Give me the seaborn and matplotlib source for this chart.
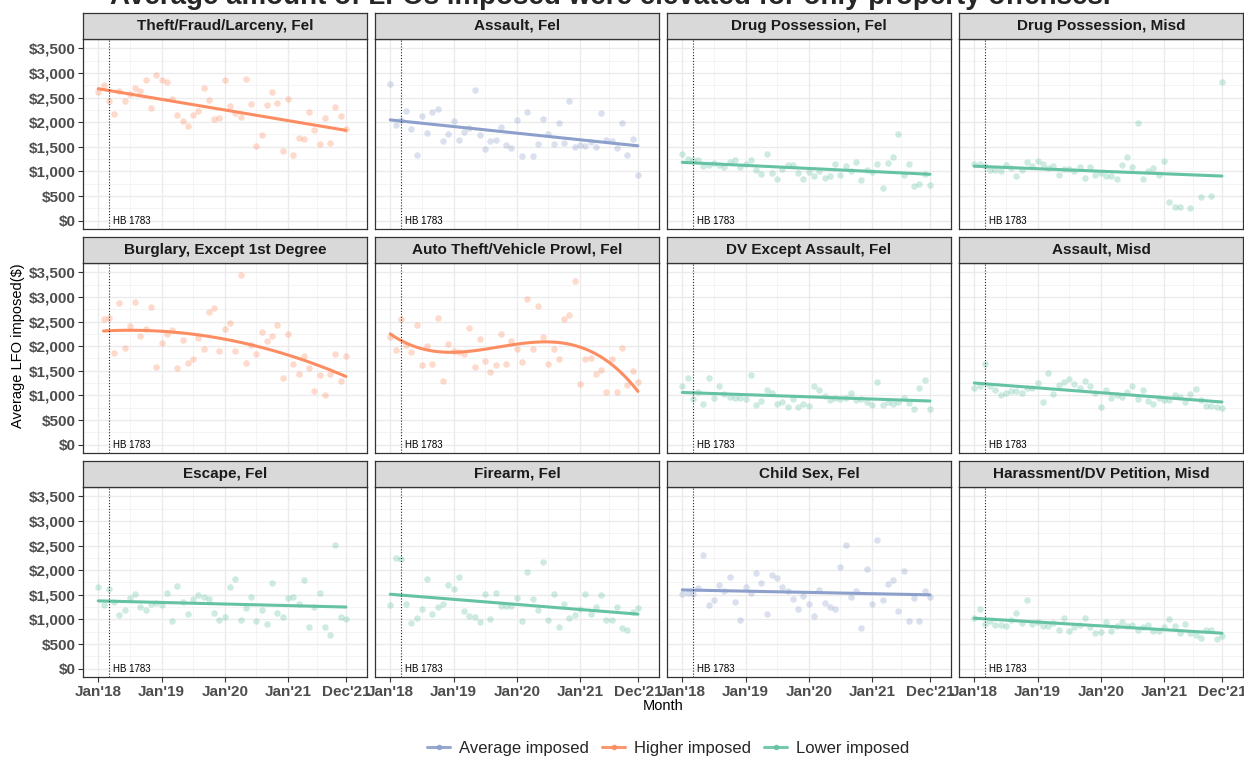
import numpy as np
import pandas as pd
import matplotlib
matplotlib.use("Agg")
import matplotlib.pyplot as plt
from matplotlib.lines import Line2D
import seaborn as sns

# ---------------- data ----------------
TITLE = "Average amount of LFOs imposed were elevated for only property offenses."
panel_titles = [
    "Theft/Fraud/Larceny, Fel", "Assault, Fel", "Drug Possession, Fel", "Drug Possession, Misd",
    "Burglary, Except 1st Degree", "Auto Theft/Vehicle Prowl, Fel", "DV Except Assault, Fel", "Assault, Misd",
    "Escape, Fel", "Firearm, Fel", "Child Sex, Fel", "Harassment/DV Petition, Misd",
]
panel_groups = [
    "Higher imposed", "Average imposed", "Lower imposed", "Lower imposed",
    "Higher imposed", "Higher imposed", "Lower imposed", "Lower imposed",
    "Lower imposed", "Lower imposed", "Average imposed", "Lower imposed",
]
# polynomial order of each panel's smooth trend line
panel_smooth_order = [1, 1, 1, 1, 2, 3, 1, 1, 1, 1, 1, 1]

month_tick_labels = ["Jan'18", "Jan'19", "Jan'20", "Jan'21", "Dec'21"]
month_tick_pos = [0, 12, 24, 36, 47]
law_month = 2.1
law_label = "HB 1783"

theft_fel = [2606, 2762, 2430, 2166, 2633, 2430, 2572, 2688, 2640, 2850, 2281, 2952,
             2857, 2809, 2478, 2146, 2017, 1923, 2146, 2234, 2688, 2457, 2072, 2078,
             2857, 2329, 2187, 2099, 2877, 2363, 1510, 1747, 2349, 2606, 2390, 1408,
             2478, 1334, 1672, 1659, 2214, 1835, 1557, 2085, 1577, 2309, 2133, 1855]
assault_fel = [2776, 1936, 2045, 2234, 1855, 1327, 2133, 1781, 2214, 2268, 1611, 1753,
               2017, 1645, 1794, 1889, 2654, 1740, 1462, 1618, 1645, 1909, 1537, 1483,
               2045, 1307, 2214, 1307, 1550, 2058, 1753, 1550, 1984, 1577, 2430, 1496,
               1537, 1510, 1604, 1496, 2187, 1638, 1618, 1483, 1990, 1340, 1659, 927]
drug_fel = [1347, 1246, 1232, 1232, 1110, 1137, 1171, 1137, 1090, 1198, 1232, 1097,
            1151, 1232, 1022, 941, 1354, 975, 853, 1043, 1124, 1124, 961, 853,
            995, 907, 1009, 873, 914, 1144, 921, 1117, 1009, 1198, 819, 1036,
            982, 1158, 657, 1164, 1293, 1753, 927, 1158, 711, 745, 948, 724]
drug_misd = [1144, 1144, 1110, 1022, 1022, 1002, 1131, 1070, 900, 1022, 1198, 1110,
             1212, 1158, 1076, 1110, 934, 1049, 1049, 1016, 1083, 873, 1083, 921,
             975, 914, 914, 839, 1124, 1286, 1083, 1990, 846, 1002, 1063, 934,
             1219, 372, 271, 271, None, 250, None, 474, None, 508, None, 2816]
burglary_fel = [None, 2544, 2564, 1852, 2876, 1967, 2415, 2890, 2198, 2354, 2788, 1574,
                2062, 2252, 2327, 1560, 2123, 1655, 1743, 2171, 1933, 2700, 2767, 1899,
                2347, 2476, 1899, 3453, 1655, 2030, 1838, 2279, 2103, 2198, 2435, 1363,
                2238, 1628, 1445, 1804, 1547, 1099, 1424, 1017, 1445, 1838, 1302, 1791]
auto_theft_fel = [2177, 1920, 2544, 2021, 1879, 2435, 1608, 1994, 1648, 2571, 1289, 2042,
                  1906, 1872, 1838, 2360, 1587, 2137, 1703, 1485, 1614, 2238, 1635, 2103,
                  1933, 1675, 2964, 1933, 2815, 2191, 1648, 1947, 1743, 2550, 2632, 3324,
                  1234, 1736, 1770, 1438, 1513, 1072, 1730, 1065, 1954, 1207, 1499, 1282]
dv_fel = [1187, 1363, 929, 1072, 834, 1350, 943, 1187, 1024, 970, 956, 943,
          929, 1424, 814, 882, 1119, 1045, 834, 861, 766, 929, 766, 834,
          787, 1201, 1106, 997, 916, 956, 929, 943, 1058, 916, 929, 875,
          800, 1268, 814, 861, 821, 875, 943, 841, 719, 1146, 1323, 719]
assault_misd = [1153, 1187, 1628, 1187, 1106, 1004, 1058, 1085, 1085, 1058, 1153, 1153,
                1262, 875, 1458, 1031, 1221, 1268, 1329, 1241, 1153, 1296, 1187, 1051,
                773, 1119, 943, 1004, 970, 1072, 1187, 936, 1119, 889, 821, 956,
                902, 902, 1004, 970, 875, 1031, 1126, 909, 794, 794, 760, 739]
escape_fel = [1659, 1295, 1619, 1349, 1093, 1194, 1443, 1511, 1261, 1194, 1315, 1335,
              1288, 1538, 971, 1686, 1362, 1113, 1409, 1490, 1463, 1423, 1133, 985,
              1059, 1666, 1821, 985, 1234, 1463, 971, 1200, 910, 1733, 1133, 1059,
              1436, 1457, 1308, 1801, 836, 1254, 1538, 836, 688, 2502, 1045, 1005]
firearm_fel = [1288, 2239, 2219, 1308, 937, 1025, 1207, 1828, 1120, 1248, 1315, 1693,
               1612, 1861, 1180, 1066, 1059, 951, 1524, 1018, 1531, 1281, 1281, 1281,
               1443, 958, 1969, 1409, 1200, 2165, 985, 1511, 836, 1308, 1032, 1093,
               1207, 1524, 1120, 1248, 1504, 998, 998, 1261, 823, 782, 1160, 1234]
child_sex_fel = [1515, 1535, 1515, 1631, 2299, 1290, 1399, 1699, 1583, 1863, 1358, 996,
                 1665, 1535, 1945, 1733, 1105, 1910, 1842, 1658, 1583, 1412, 1221, 1467,
                 1317, 1064, 1603, 1330, 1249, 1214, 2067, 2518, 1460, 1569, 832, 2026,
                 1310, 2620, 1385, 1726, 1794, 1180, 1979, 962, 1433, 962, 1569, 1446]
harassment_misd = [1037, 1208, 907, 976, 880, 894, 860, 996, 1126, 928, 1399, 907,
                   942, 873, 860, 921, 778, 1023, 764, 846, 880, 1023, 846, 723,
                   744, 955, 771, 873, 942, 873, 880, 778, 846, 880, 771, 771,
                   846, 1010, 860, 723, 901, 723, 675, 621, 778, 785, 594, 662]

panel_values = [theft_fel, assault_fel, drug_fel, drug_misd,
                burglary_fel, auto_theft_fel, dv_fel, assault_misd,
                escape_fel, firearm_fel, child_sex_fel, harassment_misd]

group_colors = {"Average imposed": "#8DA0CB", "Higher imposed": "#FC8D62", "Lower imposed": "#66C2A5"}
legend_order = ["Average imposed", "Higher imposed", "Lower imposed"]

# ---------------- figure ----------------
sns.set_theme(style="white")
plt.rcParams['font.family'] = ['Liberation Sans', 'DejaVu Sans']

W, H = 1244, 757
fig = plt.figure(figsize=(W / 100, H / 100), dpi=100)

col_left = [83, 375, 667, 959]
row_top = [39, 263, 487]
pw, ph, sh = 284, 190, 26


def rect(px, py_top, w, h):
    return [px / W, 1 - (py_top + h) / H, w / W, h / H]


xmin, xmax = -2.9, 51.0
ymin, ymax = -170, 3690
ymaj = np.arange(0, 3501, 500)
ymin_ticks = np.arange(250, 3500, 500)

for i, (title, grp, vals, order) in enumerate(zip(panel_titles, panel_groups, panel_values, panel_smooth_order)):
    r, c = divmod(i, 4)
    ax = fig.add_axes(rect(col_left[c], row_top[r], pw, ph))
    df = pd.DataFrame({"month": np.arange(len(vals)), "value": vals}).dropna()
    df["value"] = df["value"].astype(float)
    color = group_colors[grp]

    ax.set_xlim(xmin, xmax)
    ax.set_ylim(ymin, ymax)
    ax.set_xticks(month_tick_pos)
    ax.set_xticks([6, 18, 30, 41.5], minor=True)
    ax.set_yticks(ymaj)
    ax.set_yticks(ymin_ticks, minor=True)
    ax.grid(True, which="major", color="#EBEBEB", lw=1.0)
    ax.grid(True, which="minor", color="#F2F2F2", lw=0.6)
    ax.set_axisbelow(True)
    ax.set_facecolor("white")
    for sp in ax.spines.values():
        sp.set_color("#333333")
        sp.set_linewidth(0.9)

    sns.scatterplot(data=df, x="month", y="value", ax=ax, color=color, alpha=0.32,
                    s=22, linewidth=0, legend=False, zorder=2)

    x = df["month"].to_numpy(float)
    y = df["value"].to_numpy(float)
    xs = np.linspace(x.min(), x.max(), 100)
    coef = np.polyfit(x, y, order)
    ys = np.polyval(coef, xs)
    sns.lineplot(x=xs, y=ys, ax=ax, color=color, lw=2.2, zorder=3)

    ax.axvline(law_month, color="#222222", ls=(0, (1, 1.6)), lw=0.8, zorder=4)
    ax.text(law_month + 0.6, 0, law_label, fontsize=7, color="black", va="center", ha="left", zorder=5)

    ax.set_xlabel("")
    ax.set_ylabel("")
    ax.tick_params(which="minor", length=0)
    if c == 0:
        ax.set_yticklabels(["$" + f"{v:,}" for v in ymaj])
        ax.tick_params(axis="y", which="major", left=True, length=3.5, width=0.8, color="#333333",
                       labelsize=11, labelcolor="#4D4D4D", pad=2)
        for t in ax.get_yticklabels():
            t.set_fontweight("bold")
    else:
        ax.tick_params(axis="y", left=False, labelleft=False)
    if r == 2:
        ax.set_xticklabels(month_tick_labels)
        ax.tick_params(axis="x", which="major", bottom=True, length=3.5, width=0.8, color="#333333",
                       labelsize=11, labelcolor="#4D4D4D", pad=2)
        for t in ax.get_xticklabels():
            t.set_fontweight("bold")
    else:
        ax.tick_params(axis="x", bottom=False, labelbottom=False)

    # strip
    sax = fig.add_axes(rect(col_left[c], row_top[r] - sh, pw, sh))
    sax.set_facecolor("#D9D9D9")
    sax.set_xticks([])
    sax.set_yticks([])
    for sp in sax.spines.values():
        sp.set_color("#333333")
        sp.set_linewidth(0.9)
    sax.text(0.5, 0.5, title, ha="center", va="center", fontsize=11, fontweight="bold",
             color="#1A1A1A", transform=sax.transAxes)

# title sits at the very top edge, as in the reference where it is mostly cut off
fig.text(610 / W, 1 - 4 / H, TITLE, ha="center", va="baseline", fontsize=20, fontweight="bold")
fig.text(663 / W, 1 - 706 / H, "Month", ha="center", va="center", fontsize=10.5, color="black")
fig.text(18 / W, 1 - 346 / H, "Average LFO imposed($)", ha="center", va="center", rotation=90,
         fontsize=10.5, color="black")

handles = [Line2D([], [], color=group_colors[g], lw=2.2, marker="o", markersize=4,
                  markerfacecolor=group_colors[g], markeredgewidth=0, alpha=0.9) for g in legend_order]
fig.legend(handles, legend_order, loc="center", bbox_to_anchor=(668 / W, 1 - 748 / H), ncol=3,
           frameon=False, fontsize=12, handlelength=1.4, handletextpad=0.5, columnspacing=0.8)

fig.savefig("out.png", dpi=100)
